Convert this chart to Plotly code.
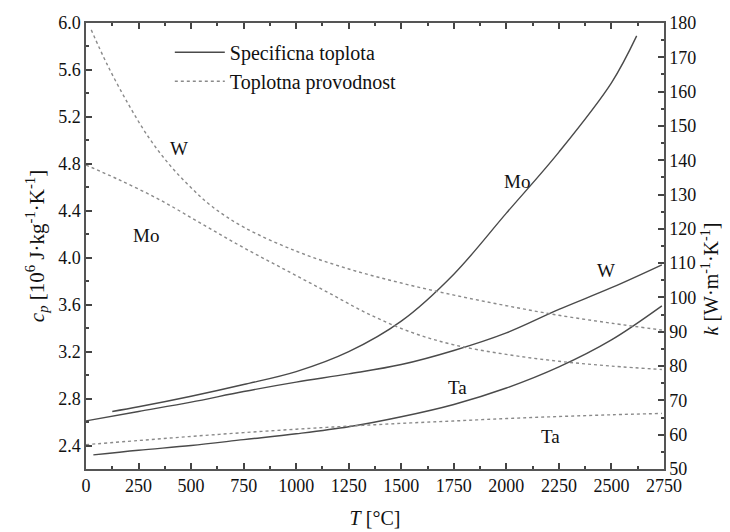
import plotly.graph_objects as go

# ---------------- data ----------------
# Specific heat c_p [10^6 J/kg/K] (left axis, solid)
T_cp_mo = [125, 250, 500, 750, 1000, 1250, 1500, 1750, 2000, 2250, 2500, 2620]
cp_mo = [2.69, 2.73, 2.82, 2.92, 3.03, 3.20, 3.46, 3.86, 4.38, 4.90, 5.49, 5.89]

T_cp_w = [0, 250, 500, 750, 1000, 1250, 1500, 1750, 2000, 2250, 2500, 2740]
cp_w = [2.61, 2.69, 2.77, 2.86, 2.94, 3.01, 3.09, 3.21, 3.36, 3.56, 3.745, 3.94]

T_cp_ta = [35, 250, 500, 750, 1000, 1250, 1500, 1750, 2000, 2250, 2500, 2740]
cp_ta = [2.32, 2.36, 2.40, 2.45, 2.50, 2.56, 2.645, 2.75, 2.89, 3.07, 3.30, 3.59]

# Thermal conductivity k [W/m/K] (right axis, dotted)
T_k_w = [25, 100, 200, 300, 400, 500, 600, 750, 1000, 1250, 1500, 1750, 2000, 2250, 2500, 2740]
k_w = [178, 168, 156.5, 146.5, 138.5, 132, 126.5, 120.5, 113.5, 108.3, 104.2, 100.7, 97.6, 94.8, 92.5, 90.5]

T_k_mo = [0, 150, 350, 550, 750, 950, 1150, 1350, 1550, 1750, 2000, 2250, 2500, 2740]
k_mo = [138.6, 134.5, 128.5, 121.5, 114.5, 108, 101.5, 95, 89.8, 86.2, 83.4, 81.4, 80, 79]

T_k_ta = [0, 250, 500, 750, 1000, 1250, 1500, 1750, 2000, 2250, 2500, 2740]
k_ta = [57.1, 58.3, 59.5, 60.6, 61.6, 62.5, 63.3, 64.0, 64.7, 65.3, 65.8, 66.2]

# Curve labels (text, T, c_p-axis value)
label_text = ["W", "Mo", "Mo", "W", "Ta", "Ta"]
label_T = [443, 286, 2050, 2474, 1766, 2210]
label_cp = [4.93, 4.19, 4.65, 3.895, 2.895, 2.48]

x_ticks = list(range(0, 2751, 250))
left_ticks = [2.4, 2.8, 3.2, 3.6, 4.0, 4.4, 4.8, 5.2, 5.6, 6.0]
right_ticks = list(range(50, 181, 10))

legend_names = ["Specificna toplota", "Toplotna provodnost"]

# ---------------- figure ----------------
FONT = "Liberation Serif"
SOLID = "#4a4a4a"
DOT = "#8a8a8a"

fig = go.Figure()

solid_sets = [(T_cp_mo, cp_mo), (T_cp_w, cp_w), (T_cp_ta, cp_ta)]
for i, (tx, vy) in enumerate(solid_sets):
    fig.add_trace(go.Scatter(
        x=tx, y=vy, mode="lines", yaxis="y",
        line=dict(color=SOLID, width=1.4, shape="spline", smoothing=1.0),
        name=legend_names[0], showlegend=(i == 0), legendgroup="cp"))

dot_sets = [(T_k_w, k_w), (T_k_mo, k_mo), (T_k_ta, k_ta)]
for i, (tx, vy) in enumerate(dot_sets):
    fig.add_trace(go.Scatter(
        x=tx, y=vy, mode="lines", yaxis="y2",
        line=dict(color=DOT, width=1.4, dash="dot", shape="spline", smoothing=1.0),
        name=legend_names[1], showlegend=(i == 0), legendgroup="k"))

for txt, tx, ty in zip(label_text, label_T, label_cp):
    fig.add_annotation(x=tx, y=ty, xref="x", yref="y", text=txt, showarrow=False,
                       font=dict(family=FONT, size=19, color="#111"))

# right axis title as annotation (positioned slightly below centre like the reference)
fig.add_annotation(xref="paper", yref="paper", x=1.0, y=0.425, xshift=60,
                   text="<i>k</i> [W·m<sup>-1</sup>·K<sup>-1</sup>]", textangle=-90,
                   showarrow=False, font=dict(family=FONT, size=20, color="#111"))

axis_common = dict(showline=True, linecolor="#555", linewidth=1.5, ticks="inside",
                   tickcolor="#444", tickwidth=1.5, ticklen=6, showgrid=False,
                   zeroline=False, automargin=False,
                   tickfont=dict(family=FONT, size=18, color="#111"))

fig.update_layout(
    width=730, height=532,
    margin=dict(l=86, r=66, t=23, b=63),
    paper_bgcolor="white", plot_bgcolor="white",
    font=dict(family=FONT, color="#111"),
    showlegend=True,
    legend=dict(x=0.145, y=0.978, xanchor="left", yanchor="top",
                bgcolor="rgba(255,255,255,0)", font=dict(family=FONT, size=20, color="#111"),
                itemwidth=50, tracegroupgap=0),
    xaxis=dict(range=[0, 2750], tickvals=x_ticks, mirror="ticks",
               minor=dict(ticks="inside", dtick=125, ticklen=3, tickcolor="#444", tickwidth=1.5),
               title=dict(text="<i>T</i> [°C]", font=dict(family=FONT, size=20), standoff=16),
               **axis_common),
    yaxis=dict(range=[2.2, 6.0], tickvals=left_ticks, ticktext=[f"{v:.1f}" for v in left_ticks],
               minor=dict(ticks="inside", dtick=0.2, tick0=2.2, ticklen=3, tickcolor="#444", tickwidth=1.5),
               title=dict(text="<i>c<sub>p</sub></i> [10<sup>6</sup> J·kg<sup>-1</sup>·K<sup>-1</sup>]",
                          font=dict(family=FONT, size=21), standoff=8),
               **axis_common),
    yaxis2=dict(range=[50, 180], tickvals=right_ticks, overlaying="y", side="right",
                minor=dict(ticks="inside", dtick=5, tick0=50, ticklen=3, tickcolor="#444", tickwidth=1.5),
                **axis_common),
)

fig.write_html("out.html")
